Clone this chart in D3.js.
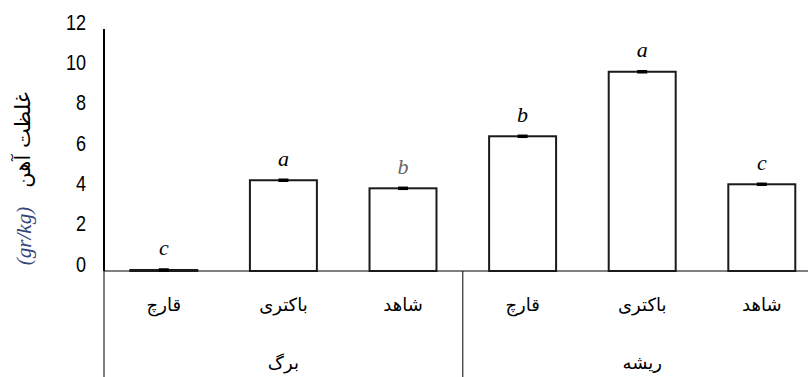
<!DOCTYPE html>
<html><head><meta charset="utf-8">
<script src="https://cdn.jsdelivr.net/npm/d3@7"></script>
<style>html,body{margin:0;padding:0;background:#fff;}svg{display:block;}</style>
</head><body>
<svg id="c" width="808" height="377"></svg>
<script>
const categories = ["قارچ","باکتری","شاهد","قارچ","باکتری","شاهد"];
const groups = ["برگ","ریشه"];
const values = [0.05, 4.5, 4.1, 6.68, 9.88, 4.3];
const letters = ["c","a","b","b","a","c"];
const yTicks = [0,2,4,6,8,10,12];

const svg = d3.select("#c");
const x = d3.scaleBand().domain(d3.range(categories.length)).range([104, 821.6]).paddingInner(0.44).paddingOuter(0.22);
const y = d3.scaleLinear().domain([0,12]).range([271, 29]);
const step = x.step();

// y tick labels (condensed look)
svg.append("g").selectAll("text").data(yTicks).join("text")
  .attr("transform", d => `translate(86,${y(d) - 5}) scale(0.82,1)`)
  .attr("text-anchor","end").attr("dominant-baseline","middle")
  .style("font-family","'Liberation Sans Narrow','Arial Narrow','Liberation Sans',sans-serif")
  .style("font-size","22px").attr("fill","#000")
  .text(d => d);

// axes lines
const x0 = x.range()[0];
svg.append("line").attr("x1",x0).attr("x2",x0).attr("y1",y(12)).attr("y2",y(0)).attr("stroke","#000").attr("stroke-width",2);
svg.append("line").attr("x1",x0).attr("x2",x0).attr("y1",y(0)).attr("y2",377).attr("stroke","#555").attr("stroke-width",1.5);
svg.append("line").attr("x1",x0).attr("x2",808).attr("y1",y(0)).attr("y2",y(0)).attr("stroke","#000").attr("stroke-width",1);
// group separators
[1,2].forEach(g => {
  const gx = x0 + g*3*step;
  svg.append("line").attr("x1",gx).attr("x2",gx).attr("y1",y(0)).attr("y2",377).attr("stroke","#000").attr("stroke-width",1);
});

// bars
svg.append("g").selectAll("rect").data(values).join("rect")
  .attr("x",(d,i)=>x(i)).attr("width",x.bandwidth())
  .attr("y",d=>y(d)).attr("height",d=>y(0)-y(d))
  .attr("fill","#fff").attr("stroke","#1a1a1a").attr("stroke-width",2);
// error caps
svg.append("g").selectAll("line").data(values).join("line")
  .attr("x1",(d,i)=>x(i)+x.bandwidth()/2-5).attr("x2",(d,i)=>x(i)+x.bandwidth()/2+5)
  .attr("y1",d=>y(d)).attr("y2",d=>y(d))
  .attr("stroke","#000").attr("stroke-width",3.5);

// letters
svg.append("g").selectAll("text").data(values).join("text")
  .attr("x",(d,i)=>x(i)+x.bandwidth()/2).attr("y",d=>y(d)-14.5)
  .attr("text-anchor","middle")
  .style("font-family","'Liberation Serif','Times New Roman',serif").style("font-style","italic")
  .style("font-size","22px").attr("fill",(d,i)=> i===2 ? "#666" : "#000")
  .text((d,i)=>letters[i]);

// category labels
svg.append("g").selectAll("text").data(categories).join("text")
  .attr("x",(d,i)=>x(i)+x.bandwidth()/2).attr("y",311)
  .attr("text-anchor","middle")
  .style("font-family","'DejaVu Sans',sans-serif").style("font-size","18px").attr("fill","#000")
  .text(d=>d);
// group labels
svg.append("g").selectAll("text").data(groups).join("text")
  .attr("x",(d,i)=>x0 + (i*3+1.5)*step).attr("y",369)
  .attr("text-anchor","middle")
  .style("font-family","'DejaVu Sans',sans-serif").style("font-size","18px").attr("fill","#000")
  .text(d=>d);

// y title
svg.append("text").attr("transform","translate(30,140) rotate(-90)")
  .attr("text-anchor","middle")
  .style("font-family","'DejaVu Sans',sans-serif").style("font-size","21px").attr("fill","#000")
  .text("غلظت آهن");
svg.append("text").attr("transform","translate(31,236) rotate(-90)")
  .attr("text-anchor","middle")
  .style("font-family","'Liberation Serif',serif").style("font-style","italic")
  .style("font-size","21px").attr("fill","#33457a")
  .text("(gr/kg)");
</script>
</body></html>
